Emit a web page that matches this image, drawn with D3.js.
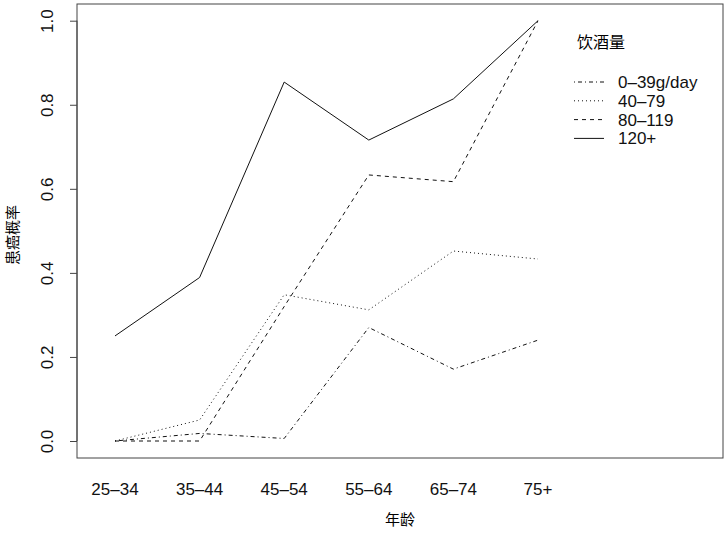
<!DOCTYPE html>
<html>
<head>
<meta charset="utf-8">
<script src="https://cdn.jsdelivr.net/npm/d3@7"></script>
<style>
  body { margin: 0; background: #fff; }
  text { font-family: "Liberation Sans", Arial, "Noto Sans CJK SC", sans-serif; }
</style>
</head>
<body>
<div id="chart"></div>
<script>
// data
var ages = ['25–34', '35–44', '45–54', '55–64', '65–74', '75+'];
var groups = ['0–39g/day', '40–79', '80–119', '120+'];
var dose0 = [0, 0.018, 0.006, 0.27, 0.171, 0.24];
var dose1 = [0, 0.05, 0.348, 0.312, 0.452, 0.433];
var dose2 = [0, 0, 0.32, 0.633, 0.617, 1.0];
var dose3 = [0.25, 0.389, 0.854, 0.716, 0.814, 1.0];
var yTicks = [0, 0.2, 0.4, 0.6, 0.8, 1.0];

var series = [dose0, dose1, dose2, dose3];
var dashes = ['1,3,4,3', '1,3', '4,4', null];

var width = 728, height = 535;
var boxL = 77, boxR = 723, boxT = 4, boxB = 458;

var svg = d3.select('#chart').append('svg')
    .attr('width', width)
    .attr('height', height);

var x = d3.scaleLinear().domain([0, 5]).range([115, 538]);
var y = d3.scaleLinear().domain([0, 1]).range([441, 20.7]);

// box
svg.append('rect')
    .attr('x', boxL).attr('y', boxT)
    .attr('width', boxR - boxL).attr('height', boxB - boxT)
    .attr('fill', 'none').attr('stroke', '#444').attr('stroke-width', 1);

// y axis
var yaxis = d3.axisLeft(y).tickValues(yTicks).tickFormat(d3.format('.1f')).tickSize(7).tickPadding(0);
var gy = svg.append('g').attr('transform', 'translate(' + boxL + ',0)').call(yaxis);
gy.select('.domain').attr('stroke', '#444').attr('d', 'M0,' + y(0) + 'V' + y(1));
gy.selectAll('.tick line').attr('stroke', '#444');
gy.selectAll('.tick text')
    .attr('transform', 'rotate(-90)')
    .attr('x', 0).attr('y', -30)
    .attr('dy', '0.35em')
    .attr('text-anchor', 'middle')
    .style('font-size', '17px')
    .attr('fill', '#111');

// x labels (no ticks)
svg.append('g').selectAll('text')
    .data(ages)
    .join('text')
    .attr('x', (d, i) => x(i))
    .attr('y', 489)
    .attr('dy', '0.35em')
    .attr('text-anchor', 'middle')
    .style('font-size', '17px')
    .attr('fill', '#111')
    .text(d => d);

// axis titles
svg.append('text')
    .attr('x', 400).attr('y', 525)
    .attr('text-anchor', 'middle')
    .style('font-family', '"Noto Sans CJK SC"')
    .style('font-size', '15px')
    .text('年龄');

svg.append('text')
    .attr('transform', 'translate(13,235) rotate(-90)')
    .attr('text-anchor', 'middle')
    .attr('dy', '0.35em')
    .style('font-family', '"Noto Sans CJK SC"')
    .style('font-size', '15px')
    .text('患癌概率');

// lines
var line = d3.line().x((d, i) => x(i)).y(d => y(d));
svg.append('g').selectAll('path')
    .data(series)
    .join('path')
    .attr('d', d => line(d))
    .attr('fill', 'none')
    .attr('stroke', '#111')
    .attr('stroke-width', 1)
    .attr('stroke-dasharray', (d, i) => dashes[i]);

// legend
svg.append('text')
    .attr('x', 577).attr('y', 42)
    .attr('dy', '0.35em')
    .style('font-family', '"Noto Sans CJK SC"')
    .style('font-size', '16px')
    .text('饮酒量');

var lg = svg.append('g').selectAll('g')
    .data(groups)
    .join('g')
    .attr('transform', (d, i) => 'translate(0,' + (82 + i * 18.8) + ')');
lg.append('line')
    .attr('x1', 574).attr('x2', 604)
    .attr('stroke', '#111')
    .attr('stroke-dasharray', (d, i) => dashes[i]);
lg.append('text')
    .attr('x', 618).attr('dy', '0.35em')
    .style('font-size', '17px')
    .attr('fill', '#111')
    .text(d => d);
</script>
</body>
</html>
